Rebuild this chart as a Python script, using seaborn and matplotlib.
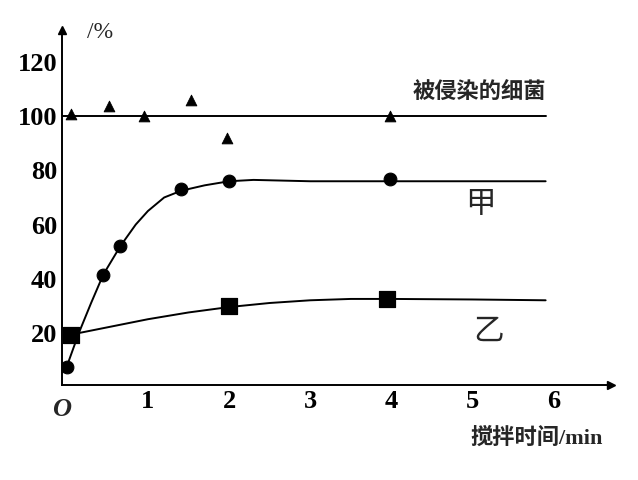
import numpy as np
import pandas as pd
import seaborn as sns
import matplotlib
matplotlib.use('Agg')
import matplotlib.pyplot as plt

# points
tri_x = [0.05, 0.52, 0.95, 1.53, 1.98, 3.98]
tri_y = [101, 104, 100, 106, 92, 100]
jia_x = [0.0, 0.45, 0.66, 1.41, 2.0, 3.98]
jia_y = [7.5, 41.5, 52, 73, 76, 77]
yi_x = [0.05, 2.0, 3.95]
yi_y = [19, 30, 32.6]
# hand drawn curves
jia_cx = [0, 0.15, 0.3, 0.45, 0.66, 0.85, 1.0, 1.2, 1.41, 1.7, 2.0, 2.3, 3, 4, 5, 5.9]
jia_cy = [7.5, 20, 31, 41.5, 52, 60, 65, 70, 72.5, 74.5, 76, 76.5, 76, 76, 76, 76]
yi_cx = [0, 0.5, 1, 1.5, 2, 2.5, 3, 3.5, 4, 5, 5.9]
yi_cy = [19, 22, 25, 27.5, 29.5, 31, 32, 32.5, 32.5, 32.3, 32]

sns.set_style('white')
plt.rcParams['font.family'] = ['Liberation Serif', 'Noto Sans CJK SC']

fig = plt.figure(figsize=(6.38, 4.8), dpi=100)
ax = fig.add_axes([0.097, 0.198, 0.86, 0.74])

ax.plot([-0.06, 5.9], [100, 100], color='black', lw=1.4)
ax.plot(jia_cx, jia_cy, color='black', lw=1.4)
ax.plot(yi_cx, yi_cy, color='black', lw=1.4)
sns.scatterplot(x=tri_x, y=tri_y, marker='^', color='black', s=60, ax=ax, edgecolor='black')
sns.scatterplot(x=jia_x, y=jia_y, marker='o', color='black', s=85, ax=ax, edgecolor='black')
sns.scatterplot(x=yi_x, y=yi_y, marker='s', color='black', s=120, ax=ax, edgecolor='black')

ax.set_xlim(-0.06, 6.7)
ax.set_ylim(0.7, 132)
for s in ['top', 'right']:
    ax.spines[s].set_visible(False)
for s in ['left', 'bottom']:
    ax.spines[s].set_color('black')
    ax.spines[s].set_linewidth(1.4)
ax.plot(1, 0, '>k', transform=ax.transAxes, clip_on=False, ms=6)
ax.plot(0, 1, '^k', transform=ax.transAxes, clip_on=False, ms=6)

ax.set_xticks([1, 2, 3, 4, 5, 6])
ax.set_yticks([20, 40, 60, 80, 100, 120])
ax.tick_params(direction='in', length=4, width=1.2, labelsize=19, colors='black')
for t in ax.get_xticklabels() + ax.get_yticklabels():
    t.set_fontweight('bold')
ax.text(-0.06, -4, 'O', ha='center', va='top', fontsize=19, style='italic', fontweight='bold')
ax.text(0.25, 131, '/%', ha='left', va='center', fontsize=17)
ax.text(6.6, -19, '搅拌时间/min', ha='right', va='center', fontsize=16, fontweight='bold')
ax.text(5.9, 109, '被侵染的细菌', ha='right', va='center', fontsize=16, fontweight='bold')
ax.text(5.1, 67, '甲', ha='center', va='center', fontsize=22)
ax.text(5.2, 20, '乙', ha='center', va='center', fontsize=22)

fig.savefig('out.png', dpi=100)
